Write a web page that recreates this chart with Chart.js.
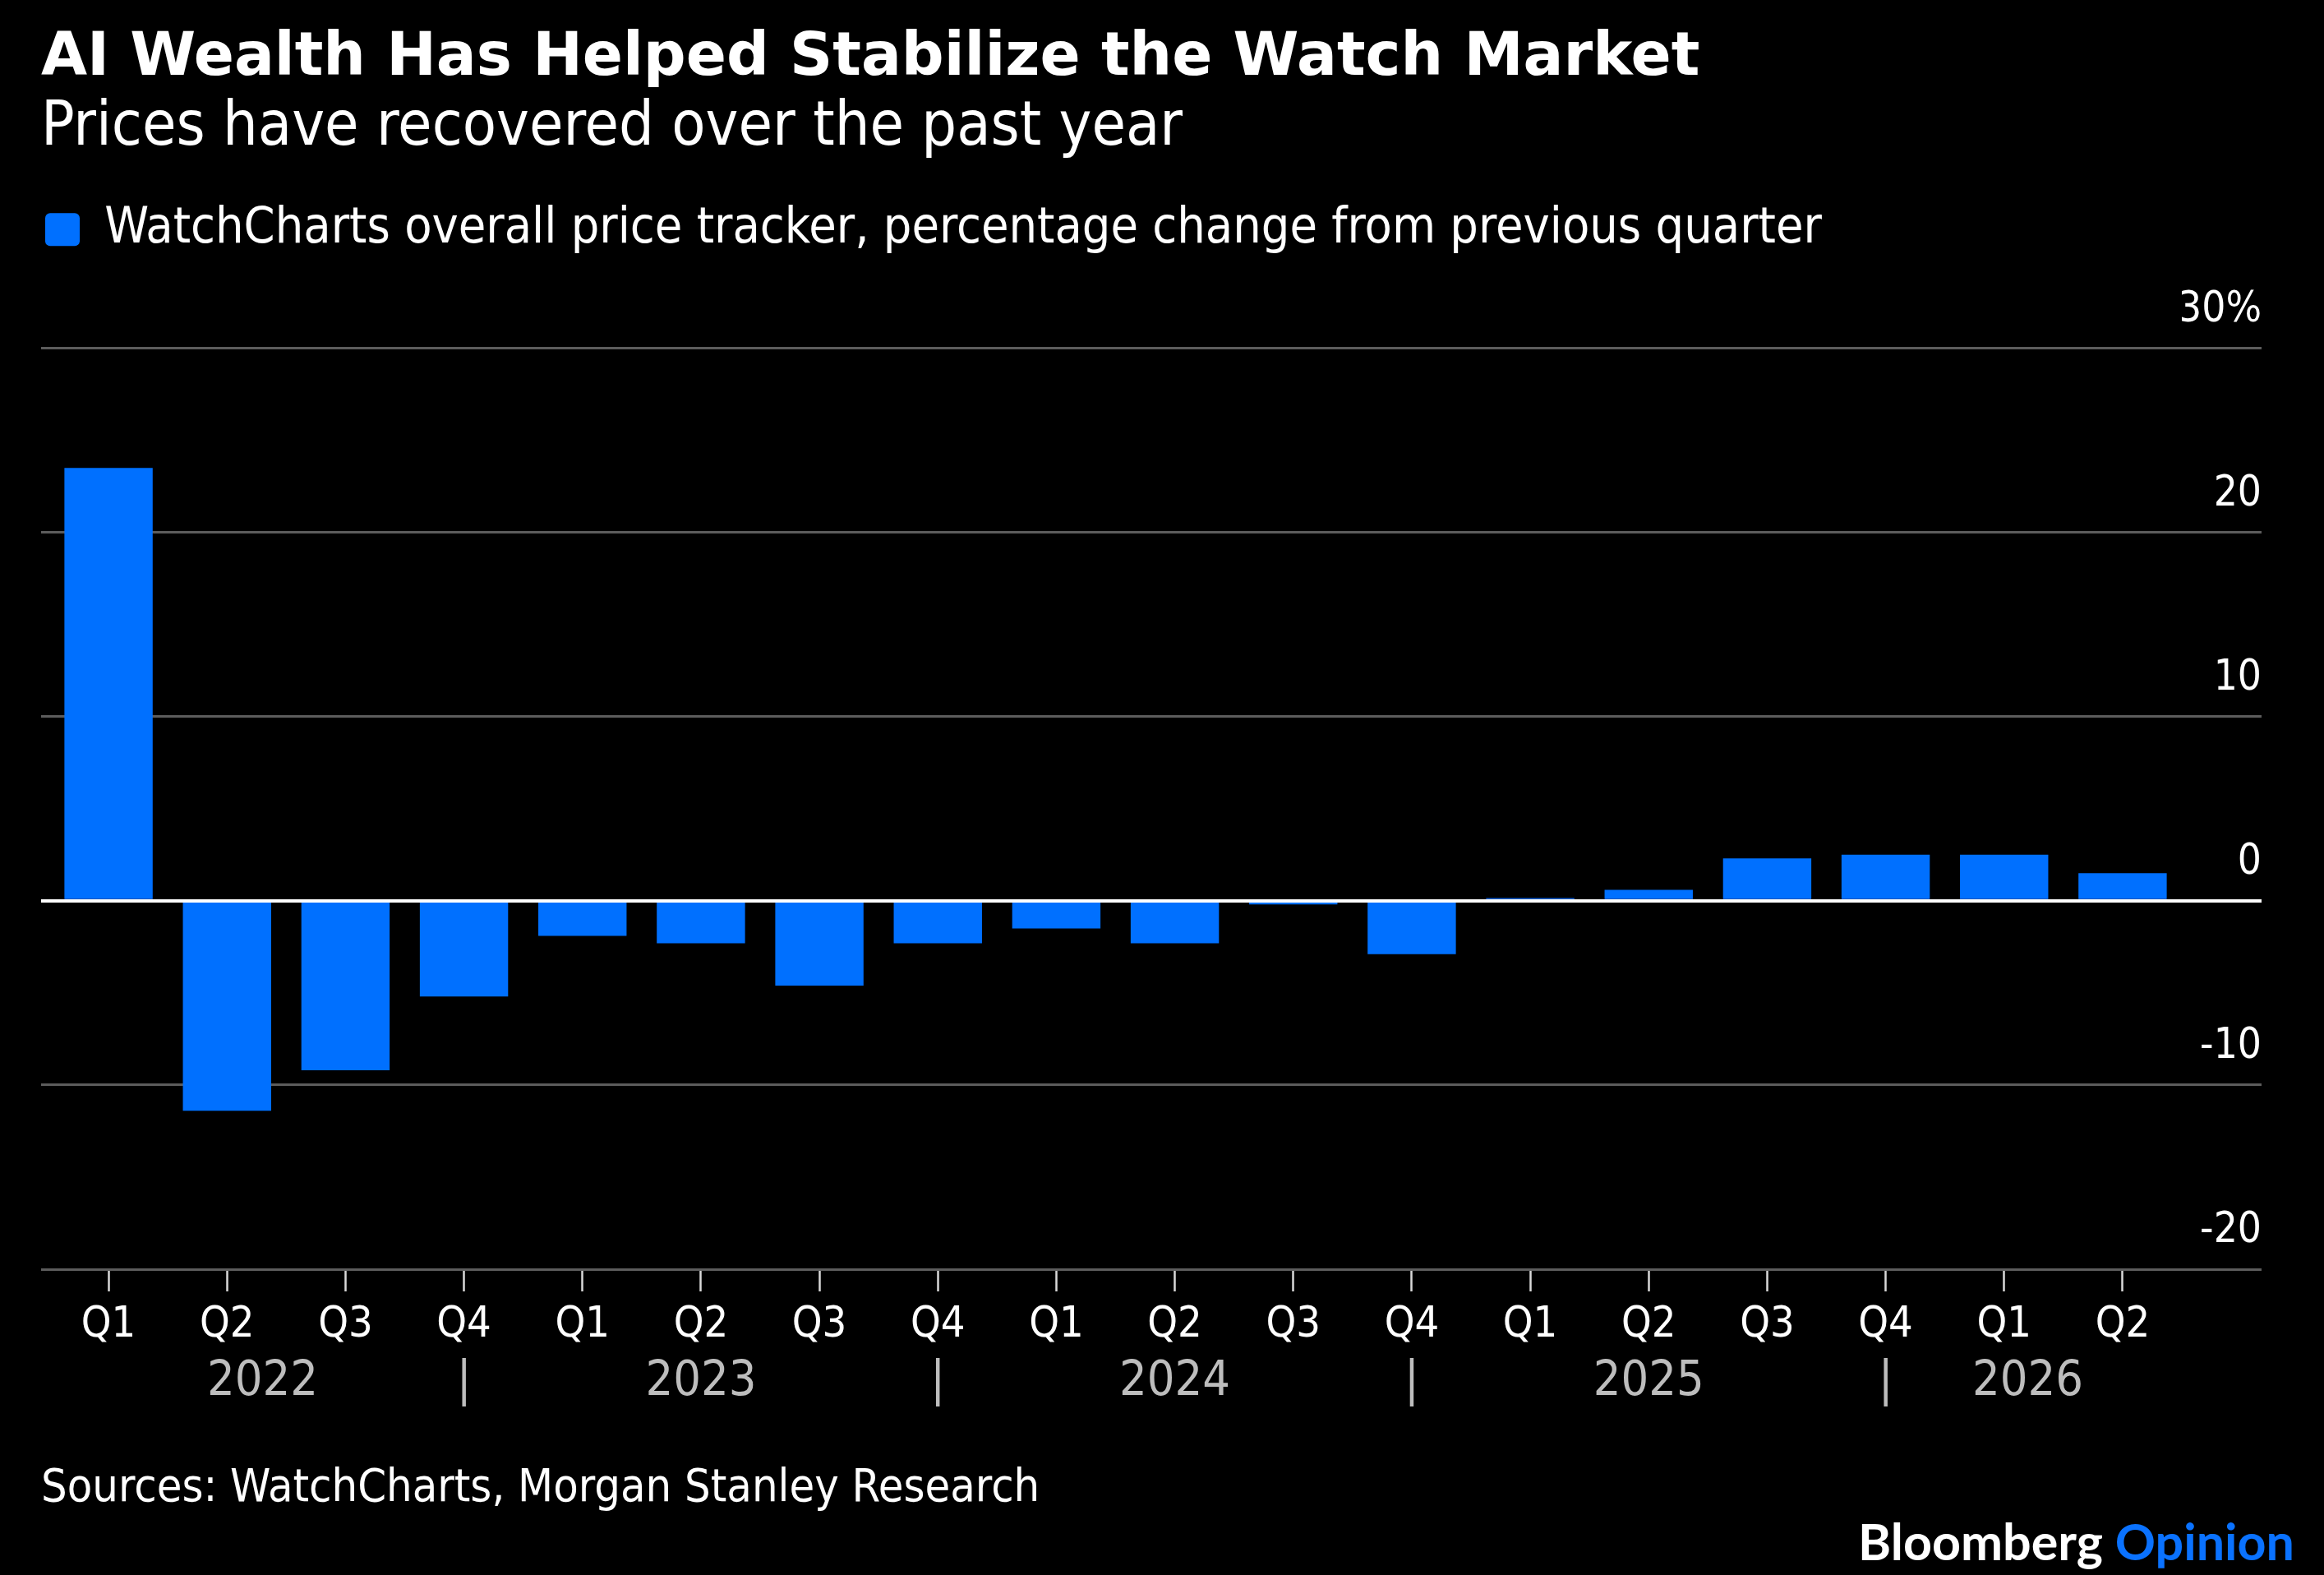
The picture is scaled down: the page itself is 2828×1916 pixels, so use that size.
<!DOCTYPE html>
<html>
<head>
<meta charset="utf-8">
<script src="https://cdn.jsdelivr.net/npm/chart.js@4.4.1/dist/chart.umd.min.js"></script>
<style>
html,body{margin:0;padding:0;background:#000;}
#wrap{position:relative;width:2828px;height:1916px;overflow:hidden;background:#000;font-family:'DejaVu Sans Condensed','DejaVu Sans',sans-serif;color:#fff;}
#wrap canvas{position:absolute;left:0;top:0;}
.txt{position:absolute;white-space:nowrap;line-height:1;}
#title{left:50px;top:30px;font-size:72.5px;font-weight:bold;font-family:'DejaVu Sans',sans-serif;}
#sub{left:50px;top:113px;font-size:75px;}
#src{left:50px;top:1779px;font-size:55.5px;}
#brand{right:36px;top:1844px;font-size:61px;font-weight:bold;font-family:Lato,'DejaVu Sans',sans-serif;}
#brand span{color:#0a72ff;}
</style>
</head>
<body>
<div id="wrap">
  <canvas id="c" width="2828" height="1916"></canvas>
  <div class="txt" id="title">AI Wealth Has Helped Stabilize the Watch Market</div>
  <div class="txt" id="sub">Prices have recovered over the past year</div>
  <div class="txt" id="src">Sources: WatchCharts, Morgan Stanley Research</div>
  <div class="txt" id="brand">Bloomberg <span>Opinion</span></div>
</div>
<script>
// quarterly % change, Q1 2022 .. Q2 2026
var quarters=['Q1','Q2','Q3','Q4','Q1','Q2','Q3','Q4','Q1','Q2','Q3','Q4','Q1','Q2','Q3','Q4','Q1','Q2'];
var priceChange=[23.5,-11.4,-9.2,-5.2,-1.9,-2.3,-4.6,-2.3,-1.5,-2.3,-0.2,-2.9,0.15,0.6,2.3,2.5,2.5,1.5];
var seriesName='WatchCharts overall price tracker, percentage change from previous quarter';
// year row under the quarters (positions in category units)
var yearLabels=['2022','|','2023','|','2024','|','2025','|','2026'];
var yearPos=[1.3,3,5,7,9,11,13,15,16.2];
var yTicks=[-20,-10,0,10,20,30];

var BLUE='#0070ff', GRID='#5c5c5c', ZERO='#ffffff';
var FONT="'DejaVu Sans Condensed','DejaVu Sans',sans-serif";

function fixW(w){return function(s){s.width=w;};}
function fixH(h){return function(s){s.height=h;};}
function setTicks(arr){return function(s){s.ticks=arr.map(function(v){return {value:v};});};}
function isZero(c){return c.tick && c.tick.value===0;}

new Chart(document.getElementById('c'),{
  type:'bar',
  data:{labels:quarters,datasets:[{label:seriesName,data:priceChange,backgroundColor:BLUE,borderWidth:0,
    barPercentage:0.745,categoryPercentage:1,xAxisID:'x',yAxisID:'y'}]},
  options:{
    responsive:false,animation:false,devicePixelRatio:1,
    layout:{padding:{top:244,left:50,right:76,bottom:194}},
    plugins:{
      legend:{position:'top',align:'start',
        labels:{color:'#fff',font:{family:FONT,size:60.6},boxWidth:42,boxHeight:40,padding:5,useBorderRadius:true,borderRadius:6}},
      tooltip:{enabled:false}
    },
    scales:{
      x:{type:'category',position:'bottom',offset:true,weight:0,afterFit:fixH(98),
        grid:{display:true,drawOnChartArea:false,drawTicks:true,tickLength:27,tickColor:'#d9d9d9',tickWidth:2.5,offset:false},
        border:{display:false},
        ticks:{color:'#fff',font:{family:FONT,size:52},padding:10,autoSkip:false,maxRotation:0}},
      yr:{type:'linear',position:'bottom',min:-0.5,max:17.5,bounds:'data',offset:false,grace:0,weight:1,afterFit:fixH(80),
        afterBuildTicks:setTicks(yearPos),
        grid:{display:false,drawTicks:false,offset:false},border:{display:false},
        ticks:{color:'#bdbdbd',font:{family:FONT,size:59},padding:4,autoSkip:false,maxRotation:0,
          callback:function(v,i){return yearLabels[i];}}},
      gap:{type:'category',position:'top',afterFit:fixH(104),grid:{display:false,drawTicks:false},border:{display:false},ticks:{display:false}},
      y:{position:'right',min:yTicks[0],max:yTicks[yTicks.length-1],afterBuildTicks:setTicks(yTicks),afterFit:fixW(97),
        grid:{color:function(c){return isZero(c)?ZERO:GRID;},lineWidth:function(c){return isZero(c)?4:3;},tickLength:97,drawTicks:true},
        border:{display:false},
        ticks:{color:'#fff',font:{family:FONT,size:51},crossAlign:'far',padding:0,labelOffset:-46,
          callback:function(v){return v===30?'30%':v;}}},
      y2:{position:'left',min:yTicks[0],max:yTicks[yTicks.length-1],afterBuildTicks:setTicks(yTicks),afterFit:fixW(10),
        grid:{z:1,color:function(c){return isZero(c)?ZERO:'rgba(0,0,0,0)';},tickColor:function(c){return isZero(c)?ZERO:GRID;},
          lineWidth:function(c){return isZero(c)?4:3;},tickLength:10},
        border:{display:false},ticks:{display:false}}
    }
  }
});
</script>
</body>
</html>
